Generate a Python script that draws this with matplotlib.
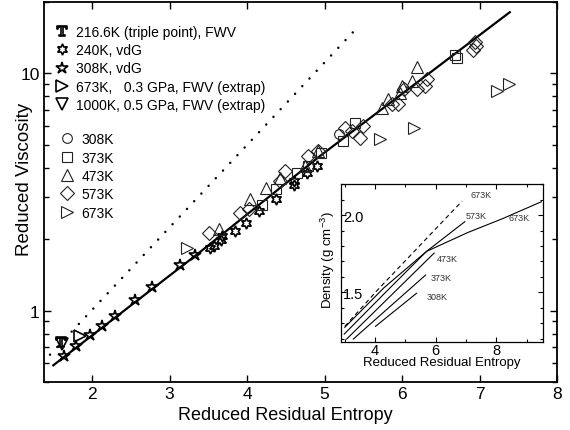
import matplotlib
matplotlib.use('Agg')
import matplotlib.pyplot as plt
from matplotlib.lines import Line2D
from matplotlib.ticker import MultipleLocator, LogLocator, NullFormatter

plt.rcParams['font.family'] = ['Liberation Sans', 'DejaVu Sans']
plt.rcParams['mathtext.fontset'] = 'dejavuserif'

# main panel data
x_fit = [1.50, 3.35, 4.94, 7.39]
y_fit = [0.588, 1.72, 4.48, 18.1]
x_dot = [1.458, 5.394]
y_dot = [0.652, 15.24]

x_tp = [1.60]
y_tp = [0.74]
x_240 = [3.52, 3.57, 3.66, 3.68, 3.85, 3.99, 4.16, 4.38, 4.60, 4.61, 4.77, 4.90]
y_240 = [1.84, 1.88, 1.98, 2.06, 2.16, 2.34, 2.62, 2.94, 3.51, 3.40, 3.81, 4.06]
x_308v = [1.64, 1.79, 1.98, 2.13, 2.30, 2.55, 2.77, 3.14, 3.33]
y_308v = [0.646, 0.712, 0.790, 0.864, 0.946, 1.113, 1.259, 1.564, 1.722]
x_673p = [1.85]
y_673p = [0.78]
x_1000 = [1.61]
y_1000 = [0.726]

x_308 = [5.19]
y_308 = [5.53]
x_373 = [4.19, 4.38, 4.64, 4.79, 4.96, 5.24, 5.39, 6.68, 6.71]
y_373 = [2.80, 3.24, 3.81, 4.06, 4.63, 5.18, 6.15, 12.0, 11.6]
x_473 = [3.64, 4.04, 4.25, 4.43, 4.75, 4.92, 5.74, 5.82, 5.97, 6.00, 6.13, 6.19]
y_473 = [2.21, 2.96, 3.29, 3.63, 4.06, 4.70, 7.16, 7.77, 8.29, 8.84, 9.28, 10.6]
x_573 = [3.51, 3.91, 4.02, 4.42, 4.49, 4.79, 4.92, 5.26, 5.35, 5.46, 5.50,
         5.87, 5.95, 6.02, 6.19, 6.30, 6.32, 6.92, 6.96, 6.94]
y_573 = [2.13, 2.58, 2.67, 3.51, 3.87, 4.48, 4.70, 5.90, 5.71, 5.35, 5.99,
         7.40, 7.40, 8.56, 8.56, 8.84, 9.50, 12.6, 13.0, 13.5]
x_673 = [3.22, 5.72, 6.15, 7.23, 7.38]
y_673 = [1.84, 5.27, 5.90, 8.42, 8.99]

# inset data
xi_d673 = [3.01, 4.11, 6.87]
yi_d673 = [1.28, 1.52, 2.09]
xi_673 = [3.01, 4.30, 5.70, 7.07, 8.17, 9.48]
yi_673 = [1.274, 1.53, 1.765, 1.888, 1.974, 2.086]
xi_573 = [2.99, 4.30, 5.70, 6.96]
yi_573 = [1.23, 1.49, 1.765, 1.957]
xi_473 = [3.07, 5.95]
yi_473 = [1.198, 1.754]
xi_373 = [3.29, 5.67]
yi_373 = [1.198, 1.612]
xi_308 = [4.02, 5.37]
yi_308 = [1.28, 1.494]

fig = plt.figure(figsize=(5.7, 4.31), dpi=100)
ax = fig.add_axes([0.0772, 0.1114, 0.9, 0.8817])

ax.plot(x_fit, y_fit, color='black', lw=1.6, zorder=2)
ax.plot(x_dot, y_dot, color='black', lw=1.8, linestyle=(0, (0.01, 4.2)),
        dash_capstyle='round', zorder=2)

light = dict(linestyle='none', markerfacecolor='none', markeredgecolor='#222222',
             markeredgewidth=0.8, zorder=3)
bold = dict(linestyle='none', markerfacecolor='none', markeredgecolor='black',
            markeredgewidth=1.2, zorder=3)

hexa = (6, 1, 0)
ax.plot(x_tp, y_tp, marker=r'$\mathbf{T}$', markersize=7, **bold)
ax.plot(x_240, y_240, marker=hexa, markersize=8, **bold)
ax.plot(x_308v, y_308v, marker='*', markersize=9, **bold)
ax.plot(x_673p, y_673p, marker='>', markersize=9, **bold)
ax.plot(x_1000, y_1000, marker='v', markersize=9, **bold)

ax.plot(x_308, y_308, marker='o', markersize=7, **light)
ax.plot(x_373, y_373, marker='s', markersize=7, **light)
ax.plot(x_473, y_473, marker='^', markersize=9, **light)
ax.plot(x_573, y_573, marker='D', markersize=7, **light)
ax.plot(x_673, y_673, marker='>', markersize=9, **light)

ax.set_yscale('log')
ax.set_xlim(1.38, 8)
ax.set_ylim(0.5, 20)
ax.set_xticks([2, 3, 4, 5, 6, 7, 8])
ax.set_xticklabels(['2', '3', '4', '5', '6', '7', '8'])
ax.set_yticks([1, 10])
ax.set_yticklabels(['1', '10'])
ax.yaxis.set_minor_locator(LogLocator(base=10, subs=[2, 3, 4, 5, 6, 7, 8, 9]))
ax.yaxis.set_minor_formatter(NullFormatter())
ax.tick_params(which='both', direction='in', top=True, right=True,
               labelsize=12.5, pad=3, width=1)
ax.tick_params(which='major', length=5)
ax.tick_params(which='minor', length=3.5)
for s in ax.spines.values():
    s.set_linewidth(1.3)

ax.set_xlabel('Reduced Residual Entropy', fontsize=13)
ax.xaxis.set_label_coords(0.47, -0.062)
ax.set_ylabel('Reduced Viscosity', fontsize=13.5)
ax.yaxis.set_label_coords(-0.022, 0.535)

h1 = [
    Line2D([], [], marker=r'$\mathbf{T}$', markersize=7, **bold),
    Line2D([], [], marker=hexa, markersize=8, **bold),
    Line2D([], [], marker='*', markersize=9, **bold),
    Line2D([], [], marker='>', markersize=9, **bold),
    Line2D([], [], marker='v', markersize=9, **bold),
]
l1 = ['216.6K (triple point), FWV', '240K, vdG', '308K, vdG',
      '673K,   0.3 GPa, FWV (extrap)', '1000K, 0.5 GPa, FWV (extrap)']
h2 = [
    Line2D([], [], marker='o', markersize=7, **light),
    Line2D([], [], marker='s', markersize=7, **light),
    Line2D([], [], marker='^', markersize=9, **light),
    Line2D([], [], marker='D', markersize=7, **light),
    Line2D([], [], marker='>', markersize=9, **light),
]
l2 = ['308K', '373K', '473K', '573K', '673K']

leg1 = ax.legend(h1, l1, loc='upper left', bbox_to_anchor=(0.021, 0.94),
                 frameon=False, fontsize=10, handlelength=1.0, handletextpad=0.55,
                 labelspacing=0.31, borderpad=0, borderaxespad=0)
ax.add_artist(leg1)
ax.legend(h2, l2, loc='upper left', bbox_to_anchor=(0.031, 0.657),
          frameon=False, fontsize=10, handlelength=1.0, handletextpad=0.55,
          labelspacing=0.31, borderpad=0, borderaxespad=0)

# inset
ins = fig.add_axes([0.598, 0.2035, 0.355, 0.367])
ins.plot(xi_d673, yi_d673, color='black', lw=0.8, linestyle=(0, (4, 3)))
ins.plot(xi_673, yi_673, color='black', lw=0.8)
ins.plot(xi_573, yi_573, color='black', lw=0.8)
ins.plot(xi_473, yi_473, color='black', lw=0.8)
ins.plot(xi_373, yi_373, color='black', lw=0.8)
ins.plot(xi_308, yi_308, color='black', lw=0.8)

lab = dict(fontsize=6.5, color='#333333', va='center', ha='left')
ins.text(7.15, 2.13, '673K', **lab)
ins.text(7.0, 2.0, '573K', **lab)
ins.text(8.4, 1.985, '673K', **lab)
ins.text(6.05, 1.72, '473K', **lab)
ins.text(5.83, 1.597, '373K', **lab)
ins.text(5.69, 1.474, '308K', **lab)

ins.set_xlim(2.88, 9.54)
ins.set_ylim(1.177, 2.2)
ins.set_xticks([4, 6, 8])
ins.set_yticks([1.5, 2.0])
ins.set_yticklabels(['1.5', '2.0'])
ins.xaxis.set_minor_locator(MultipleLocator(1))
ins.yaxis.set_minor_locator(MultipleLocator(0.1))
ins.tick_params(which='both', direction='in', top=True, right=True,
                labelsize=10.5, width=0.8)
ins.tick_params(which='major', length=3.5)
ins.tick_params(which='minor', length=2.5)
ins.tick_params(axis='x', pad=0.5)
ins.tick_params(axis='y', pad=-1.5)
for t in ins.get_yticklabels():
    t.set_horizontalalignment('left')
for s in ins.spines.values():
    s.set_linewidth(0.9)
ins.set_xlabel('Reduced Residual Entropy', fontsize=9.5, labelpad=-1)
ins.set_ylabel(r'Density (g cm$^{\mathregular{-3}}$)', fontsize=9.5)
ins.yaxis.set_label_coords(-0.02, 0.526)

fig.savefig('out.png', dpi=100)
